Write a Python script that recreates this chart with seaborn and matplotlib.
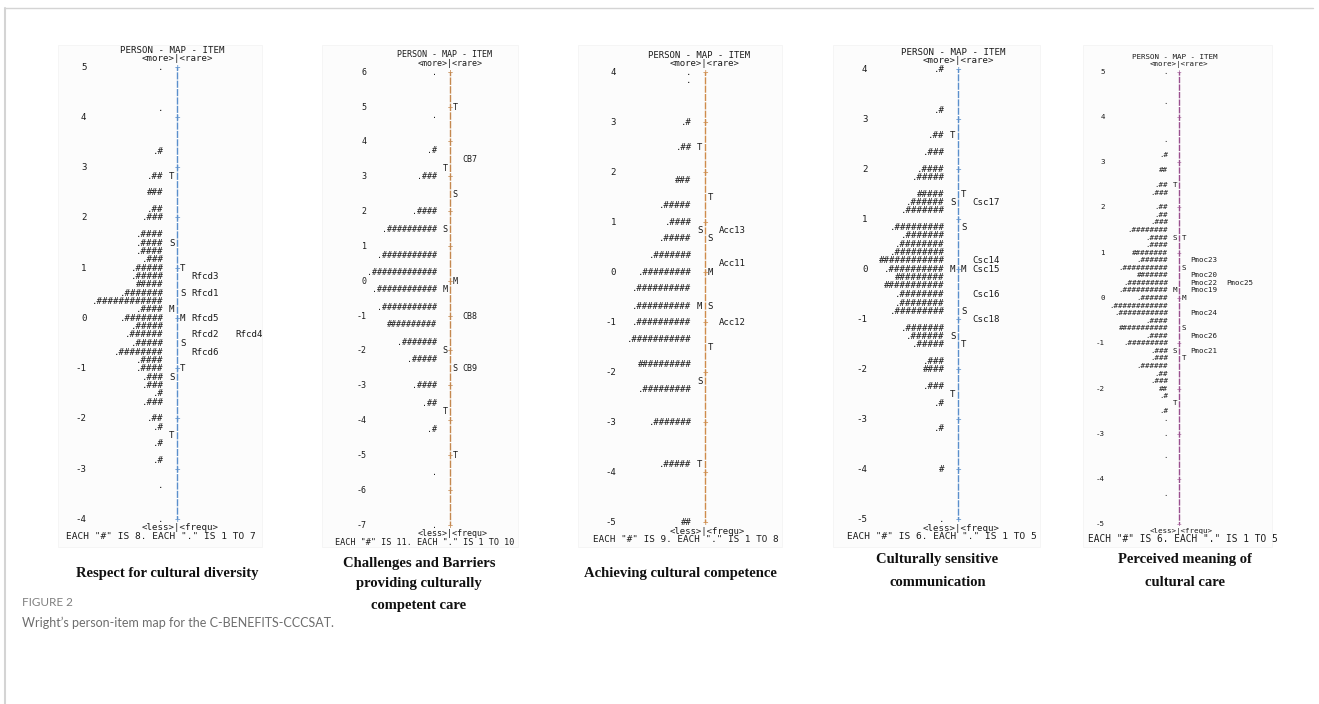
import pandas as pd
import seaborn as sns
import matplotlib.pyplot as plt
from matplotlib.patches import Rectangle
from matplotlib.lines import Line2D

W, H = 1319, 704
MONO = 'DejaVu Sans Mono'
INK = '#1c1c1c'
marks = ['T', 'S', 'M', 'S', 'T']

# --- Respect for cultural diversity (Rfcd) ---
rfcd_range = (5, -4)
rfcd_lpu = 6
rfcd_person_logit = [5.0, 4.17, 3.33, 2.83, 2.5, 2.17, 2.0, 1.67, 1.5, 1.33, 1.17, 1.0, 0.83, 0.67,
                     0.5, 0.33, 0.17, 0.0, -0.17, -0.33, -0.5, -0.67, -0.83, -1.0, -1.17, -1.33,
                     -1.5, -1.67, -2.0, -2.17, -2.5, -2.83, -3.33, -4.0]
rfcd_persons = ['.', '.', '.#', '.##', '###', '.##', '.###', '.####', '.####', '.####', '.###',
                '.#####', '.#####', '#####', '.#######', '.############', '.####', '.#######',
                '.#####', '.######', '.#####', '.########', '.####', '.####', '.###', '.###', '.#',
                '.###', '.##', '.#', '.#', '.#', '.', '.']
rfcd_pmark_logit = [2.83, 1.5, 0.17, -1.17, -2.33]
rfcd_imark_logit = [1.0, 0.5, 0.0, -0.5, -1.0]
rfcd_items = ['Rfcd3', 'Rfcd1', 'Rfcd5', 'Rfcd2', 'Rfcd4', 'Rfcd6']
rfcd_item_logit = [0.83, 0.5, 0.0, -0.33, -0.33, -0.67]
rfcd_each = (8, 7)

# --- Challenges and Barriers (CB) ---
cb_range = (6, -7)
cb_lpu = 4
cb_person_logit = [6.0, 4.75, 3.75, 3.0, 2.0, 1.5, 0.75, 0.25, -0.25, -0.75, -1.25, -1.75, -2.25,
                   -3.0, -3.5, -4.25, -5.5, -7.0]
cb_persons = ['.', '.', '.#', '.###', '.####', '.##########', '.###########', '.#############',
              '.############', '.###########', '##########', '.#######', '.#####', '.####', '.##',
              '.#', '.', '.']
cb_pmark_logit = [3.25, 1.5, -0.25, -2.0, -3.75]
cb_imark_logit = [5.0, 2.5, 0.0, -2.5, -5.0]
cb_items = ['CB7', 'CB8', 'CB9']
cb_item_logit = [3.5, -1.0, -2.5]
cb_each = (11, 10)

# --- Achieving cultural competence (Acc) ---
acc_range = (4, -5)
acc_lpu = 6
acc_person_logit = [4.0, 3.83, 3.0, 2.5, 1.83, 1.33, 1.0, 0.67, 0.33, 0.0, -0.33, -0.67, -1.0,
                    -1.33, -1.83, -2.33, -3.0, -3.83, -5.0]
acc_persons = ['.', '.', '.#', '.##', '###', '.#####', '.####', '.#####', '.#######', '.#########',
               '.##########', '.##########', '.##########', '.###########', '##########',
               '.#########', '.#######', '.#####', '##']
acc_pmark_logit = [2.5, 0.83, -0.67, -2.17, -3.83]
acc_imark_logit = [1.5, 0.67, 0.0, -0.67, -1.5]
acc_items = ['Acc13', 'Acc11', 'Acc12']
acc_item_logit = [0.83, 0.17, -1.0]
acc_each = (9, 8)

# --- Culturally sensitive communication (Csc) ---
csc_range = (4, -5)
csc_lpu = 6
csc_person_logit = [4.0, 3.17, 2.67, 2.33, 2.0, 1.83, 1.5, 1.33, 1.17, 0.83, 0.67, 0.5, 0.33, 0.17,
                    0.0, -0.17, -0.33, -0.5, -0.67, -0.83, -1.17, -1.33, -1.5, -1.83, -2.0, -2.33,
                    -2.67, -3.17, -4.0, -5.0]
csc_persons = ['.#', '.#', '.##', '.###', '.####', '.#####', '#####', '.######', '.#######',
               '.#########', '.#######', '.########', '.#########', '############', '.##########',
               '#########', '###########', '.########', '.########', '.#########', '.#######',
               '.######', '.#####', '.###', '####', '.###', '.#', '.#', '#', '.']
csc_pmark_logit = [2.67, 1.33, 0.0, -1.33, -2.5]
csc_imark_logit = [1.5, 0.83, 0.0, -0.83, -1.5]
csc_items = ['Csc17', 'Csc14', 'Csc15', 'Csc16', 'Csc18']
csc_item_logit = [1.33, 0.17, 0.0, -0.5, -1.0]
csc_each = (6, 5)

# --- Perceived meaning of cultural care (Pmoc) ---
pmoc_range = (5, -5)
pmoc_lpu = 6
pmoc_person_logit = [5.0, 4.33, 3.5, 3.17, 2.83, 2.5, 2.33, 2.0, 1.83, 1.67, 1.5, 1.33, 1.17, 1.0,
                     0.83, 0.67, 0.5, 0.33, 0.17, 0.0, -0.17, -0.33, -0.5, -0.67, -0.83, -1.0,
                     -1.17, -1.33, -1.5, -1.67, -1.83, -2.0, -2.17, -2.5, -2.67, -3.0, -3.5, -4.33]
pmoc_persons = ['.', '.', '.', '.#', '##', '.##', '.###', '.##', '.##', '.###', '.########',
                '.####', '.####', '########', '.######', '.##########', '#######', '.#########',
                '.##########', '.######', '.############', '.###########', '.####', '###########',
                '.####', '.#########', '.###', '.###', '.######', '.##', '.###', '##', '.#', '.#',
                '.', '.', '.', '.']
pmoc_pmark_logit = [2.5, 1.33, 0.17, -1.17, -2.33]
pmoc_imark_logit = [1.33, 0.67, 0.0, -0.67, -1.33]
pmoc_items = ['Pmoc23', 'Pmoc20', 'Pmoc22', 'Pmoc25', 'Pmoc19', 'Pmoc24', 'Pmoc26', 'Pmoc21']
pmoc_item_logit = [0.83, 0.5, 0.33, 0.33, 0.17, -0.33, -0.83, -1.17]
pmoc_each = (6, 5)

titles = [['Respect for cultural diversity'],
          ['Challenges and Barriers', 'providing culturally', 'competent care'],
          ['Achieving cultural competence'],
          ['Culturally sensitive', 'communication'],
          ['Perceived meaning of', 'cultural care']]

panels = [
    dict(rng=rfcd_range, lpu=rfcd_lpu, pl=rfcd_person_logit, ps=rfcd_persons,
         pm=rfcd_pmark_logit, im=rfcd_imark_logit, it=rfcd_items, il=rfcd_item_logit, each=rfcd_each),
    dict(rng=cb_range, lpu=cb_lpu, pl=cb_person_logit, ps=cb_persons,
         pm=cb_pmark_logit, im=cb_imark_logit, it=cb_items, il=cb_item_logit, each=cb_each),
    dict(rng=acc_range, lpu=acc_lpu, pl=acc_person_logit, ps=acc_persons,
         pm=acc_pmark_logit, im=acc_imark_logit, it=acc_items, il=acc_item_logit, each=acc_each),
    dict(rng=csc_range, lpu=csc_lpu, pl=csc_person_logit, ps=csc_persons,
         pm=csc_pmark_logit, im=csc_imark_logit, it=csc_items, il=csc_item_logit, each=csc_each),
    dict(rng=pmoc_range, lpu=pmoc_lpu, pl=pmoc_person_logit, ps=pmoc_persons,
         pm=pmoc_pmark_logit, im=pmoc_imark_logit, it=pmoc_items, il=pmoc_item_logit, each=pmoc_each),
]

# layout in pixels: rule x, top/bottom logit y, char width, footer, box, title
layout = [
    dict(ax=177.3, yt=67.3, yb=519.3, cw=5.5, col='#5a8fcc', fx=66, fcw=5.7,
         box=(58, 45, 262, 547), tx=167.5, ty=[573]),
    dict(ax=450.0, yt=72.3, yb=525.0, cw=5.05, col='#c4884f', fx=335, fcw=5.14,
         box=(322, 45, 518, 547), tx=419, ty=[563, 584, 605]),
    dict(ax=705.0, yt=72.3, yb=522.7, cw=5.4, col='#cf8c4c', fx=593.3, fcw=5.55,
         box=(578, 45, 782, 547), tx=680.5, ty=[573]),
    dict(ax=958.3, yt=69.0, yb=520.0, cw=5.5, col='#5a8fcc', fx=846.7, fcw=5.7,
         box=(833, 45, 1040, 547), tx=937.5, ty=[560, 583]),
    dict(ax=1179.3, yt=71.7, yb=524.3, cw=4.5, col='#9a4f8e', fx=1087.7, fcw=5.73,
         box=(1083, 45, 1272, 547), tx=1185, ty=[560, 582]),
]

sns.set_theme(style='white')
plt.rcParams['font.family'] = ['DejaVu Sans']

fig = plt.figure(figsize=(W / 100, H / 100), dpi=100)


def fx(px):
    return px / W


def fy(py):
    return 1 - py / H


# outer frame lines
fig.add_artist(Line2D([fx(5), fx(1313)], [fy(8), fy(8)], color='#d4d4d4', lw=1))
fig.add_artist(Line2D([fx(5), fx(5)], [fy(8), fy(704)], color='#d4d4d4', lw=1.5))

for d, lay, title in zip(panels, layout, titles):
    top, bot = d['rng']
    lpu = d['lpu']
    cw = lay['cw']
    fs = cw / 0.602 * 0.72
    x0, y0, x1, y1 = lay['box']
    fig.add_artist(Rectangle((fx(x0), fy(y1)), (x1 - x0) / W, (y1 - y0) / H,
                             transform=fig.transFigure, facecolor='#fcfcfc',
                             edgecolor='#f4f4f4', lw=0.6, zorder=0))

    half = 30
    ax = fig.add_axes([fx(lay['ax'] - half * cw), fy(lay['yb']),
                       2 * half * cw / W, (lay['yb'] - lay['yt']) / H])
    ax.set_xlim(-half, half)
    ax.set_ylim(bot, top)
    ax.set_facecolor('none')
    ax.axis('off')

    # central rule drawn as a dashed line, one dash per text line
    rule = pd.DataFrame({'x': [0, 0], 'y': [top, bot]})
    sns.lineplot(data=rule, x='x', y='y', ax=ax, color=lay['col'], lw=1.0,
                 estimator=None, sort=False)
    line_pt = (lay['yb'] - lay['yt']) / ((top - bot) * lpu) * 0.72
    gap = 0.9
    ax.lines[-1].set_linestyle(((line_pt - gap) / 2, (line_pt - gap, gap)))

    kw = dict(family=MONO, fontsize=fs, color=INK, va='center', clip_on=False)
    for v in range(top, bot - 1, -1):
        ax.text(0, v, '+', ha='center', **{**kw, 'color': lay['col']})
        ax.text(-16.5, v, str(v), ha='right', **kw)

    for y, s in zip(d['pl'], d['ps']):
        if set(s) == {'.'}:
            ax.text(-3, y, s, ha='center', **kw)
        else:
            ax.text(-2.5, y, s, ha='right', **kw)
    for y, m in zip(d['pm'], marks):
        ax.text(-1, y, m, ha='center', **kw)
    for y, m in zip(d['im'], marks):
        ax.text(1, y, m, ha='center', **kw)
    used = {}
    for y, lab in zip(d['il'], d['it']):
        slot = used.get(y, 0)
        used[y] = slot + 1
        ax.text(2.5 + 8 * slot, y, lab, ha='left', **kw)

    step = 1 / lpu
    ax.text(-10.5, top + 2 * step, 'PERSON - MAP - ITEM', ha='left', **kw)
    ax.text(-6.5, top + step, '<more>|<rare>', ha='left', **kw)
    ax.text(-6.5, bot - step, '<less>|<frequ>', ha='left', **kw)
    n_hash, n_dot = d['each']
    ffs = lay['fcw'] / 0.602 * 0.72
    ax.text((lay['fx'] - lay['ax']) / cw, bot - 2 * step,
            f'EACH "#" IS {n_hash}. EACH "." IS 1 TO {n_dot}', ha='left',
            **{**kw, 'fontsize': ffs})

    for line, ty in zip(title, lay['ty']):
        fig.text(fx(lay['tx']), fy(ty), line, ha='center', va='center',
                 family='Liberation Serif', weight='bold', fontsize=10.5, color='#111111')

fig.text(fx(22), fy(602), 'FIGURE 2', ha='left', va='center', family='Lato',
         fontsize=8.5, color='#808080')
fig.text(fx(22), fy(623), 'Wright\u2019s person-item map for the C-BENEFITS-CCCSAT.', ha='left',
         va='center', family='Lato', fontsize=9, color='#6e6e6e')

fig.savefig('out.png', dpi=100)
plt.close(fig)
